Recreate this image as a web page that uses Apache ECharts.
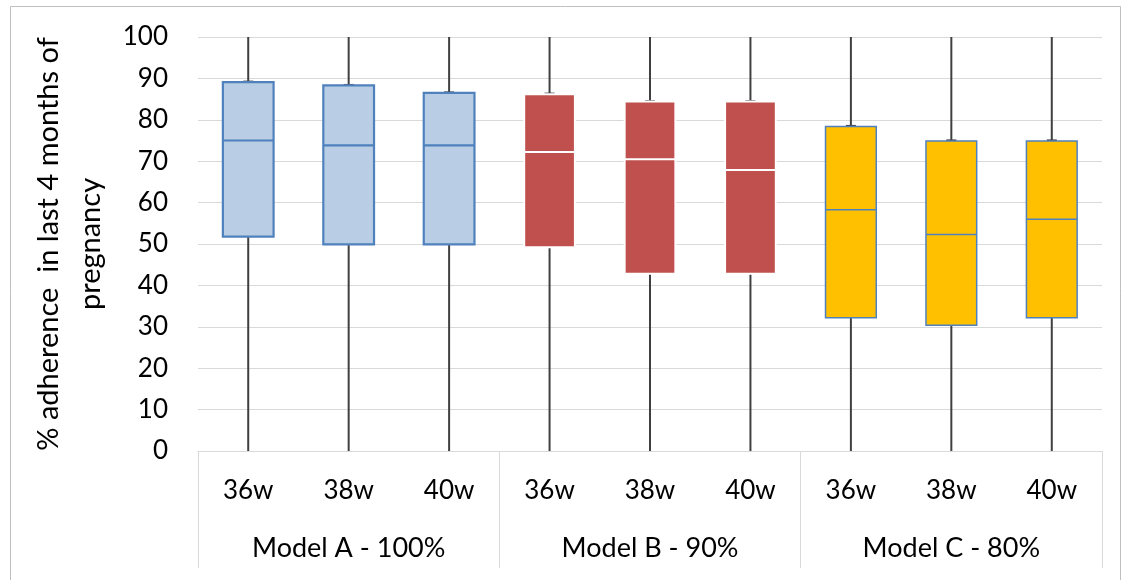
<!DOCTYPE html>
<html>
<head>
<meta charset="utf-8">
<script src="https://cdn.jsdelivr.net/npm/echarts@6/dist/echarts.min.js"></script>
<style>html,body{margin:0;padding:0;background:#fff}#c{width:1131px;height:580px}</style>
</head>
<body>
<div id="c"></div>
<script>
const categories = ['36w','38w','40w','36w','38w','40w','36w','38w','40w'];
const groups = ['Model A - 100%','Model B - 90%','Model C - 80%'];
const minVals = [0,0,0,0,0,0,0,0,0];
const q1Vals = [51.8,49.9,49.9,49.2,42.8,42.8,32.2,30.4,32.2];
const medVals = [75,73.8,73.8,72.2,70.5,67.9,58.3,52.3,56.0];
const q3Vals = [89.1,88.3,86.5,86.2,84.4,84.4,78.4,74.9,74.9];
const maxVals = [100,100,100,100,100,100,100,100,100];
const yTicks = [0,10,20,30,40,50,60,70,80,90,100];

const styles = [
  {fill:'#B9CDE5', stroke:'#4F81BD', med:'#4F81BD', lw:2.2},
  {fill:'#C0504D', stroke:'#FFFFFF', med:'#FFFFFF', lw:2},
  {fill:'#FFC000', stroke:'#4F81BD', med:'#4F81BD', lw:1.5}
];

const data = categories.map((c,i)=>[i,minVals[i],q1Vals[i],medVals[i],q3Vals[i],maxVals[i]]);
const font = 'Lato, "Open Sans", sans-serif';

const chart = echarts.init(document.getElementById('c'));
chart.setOption({
  animation:false,
  graphic:[{type:'rect',shape:{x:10.5,y:6.5,width:1110,height:600},style:{fill:'none',stroke:'#BFBFBF',lineWidth:1},silent:true}],
  grid:{left:198,right:29,top:37,bottom:129,containLabel:false},
  xAxis:[
    {type:'category',data:categories,position:'bottom',
     axisLine:{show:true,lineStyle:{color:'#D9D9D9',width:1}},
     axisTick:{show:false},
     axisLabel:{color:'#000',fontSize:26,fontFamily:font,margin:27}},
    {type:'category',data:groups,position:'bottom',offset:0,
     axisLine:{show:false},
     axisTick:{show:true,length:117,lineStyle:{color:'#D9D9D9',width:1}},
     axisLabel:{color:'#000',fontSize:27,fontFamily:font,margin:84}}
  ],
  yAxis:{type:'value',min:0,max:100,interval:10,
    name:'% adherence  in last 4 months of\npregnancy',nameLocation:'middle',nameGap:68,nameRotate:90,
    nameTextStyle:{color:'#000',fontSize:29,fontFamily:font,lineHeight:42},
    axisLine:{show:false},axisTick:{show:false},
    axisLabel:{color:'#000',fontSize:26,fontFamily:font,margin:30,
      formatter:v=>yTicks.includes(v)?String(v):''},
    splitLine:{lineStyle:{color:'#D9D9D9',width:1}}},
  series:[{
    type:'custom',xAxisIndex:0,yAxisIndex:0,data:data,
    encode:{x:0,y:[1,2,3,4,5]},
    renderItem:function(params,api){
      const i=api.value(0);
      const st=styles[Math.floor(i/3)];
      const pMin=api.coord([i,api.value(1)]);
      const pQ1=api.coord([i,api.value(2)]);
      const pMed=api.coord([i,api.value(3)]);
      const pQ3=api.coord([i,api.value(4)]);
      const pMax=api.coord([i,api.value(5)]);
      const w=api.size([1,0])[0]*0.505;
      const x=pQ1[0];
      const wl={stroke:'#404040',lineWidth:2};
      return {type:'group',children:[
        {type:'line',shape:{x1:x,y1:pMax[1],x2:x,y2:pQ3[1]},style:wl},
        {type:'line',shape:{x1:x,y1:pQ1[1],x2:x,y2:pMin[1]},style:wl},
        {type:'line',shape:{x1:x-5,y1:pQ3[1],x2:x+5,y2:pQ3[1]},style:{stroke:'#404040',lineWidth:3}},
        {type:'rect',shape:{x:x-w/2,y:pQ3[1],width:w,height:pQ1[1]-pQ3[1]},
         style:{fill:st.fill,stroke:st.stroke,lineWidth:st.lw}},
        {type:'line',shape:{x1:x-w/2,y1:pMed[1],x2:x+w/2,y2:pMed[1]},style:{stroke:st.med,lineWidth:st.lw}}
      ]};
    }
  }]
});
</script>
</body>
</html>
